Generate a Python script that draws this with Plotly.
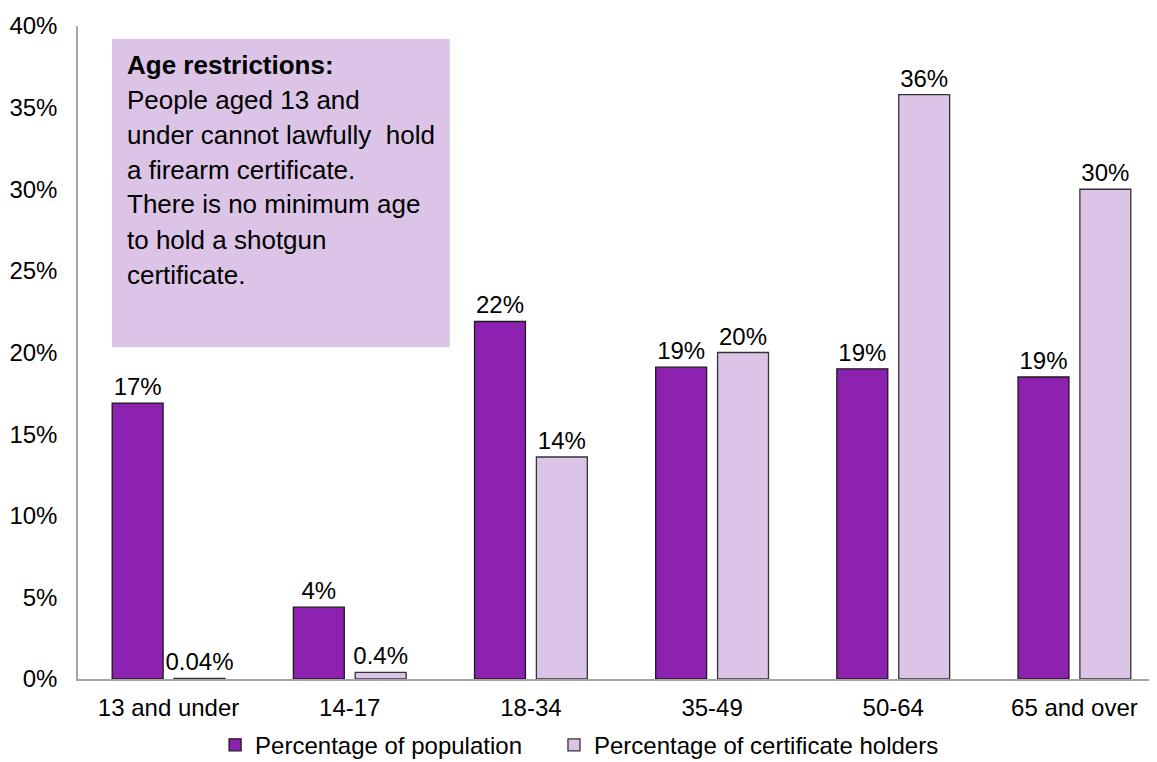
import plotly.graph_objects as go

categories = ["13 and under", "14-17", "18-34", "35-49", "50-64", "65 and over"]
population = [16.9, 4.4, 21.9, 19.1, 19.0, 18.5]
certificate = [0.04, 0.4, 13.6, 20.0, 35.8, 30.0]
population_labels = ["17%", "4%", "22%", "19%", "19%", "19%"]
certificate_labels = ["0.04%", "0.4%", "14%", "20%", "36%", "30%"]
y_ticks = [0, 5, 10, 15, 20, 25, 30, 35, 40]
y_tick_labels = ["0%", "5%", "10%", "15%", "20%", "25%", "30%", "35%", "40%"]
note_lines = [
    "<b>Age restrictions:</b>",
    "People aged 13 and",
    "under cannot lawfully  hold",
    "a firearm certificate.",
    "There is no minimum age",
    "to hold a shotgun",
    "certificate.",
]

FONT = "Liberation Sans, Arial, sans-serif"
PURPLE = "#8E22B0"
LILAC = "#DCC4E6"

fig = go.Figure()
fig.add_trace(go.Bar(
    x=categories, y=population, name="Percentage of population",
    marker=dict(color=PURPLE, line=dict(color="#1a1a1a", width=1.3)),
    text=population_labels, textposition="outside", constraintext="none",
    textfont=dict(family=FONT, size=24, color="#000"), cliponaxis=False,
    legend="legend",
))
fig.add_trace(go.Bar(
    x=categories, y=certificate, name="Percentage of certificate holders",
    marker=dict(color=LILAC, line=dict(color="#333333", width=1.3)),
    text=certificate_labels, textposition="outside", constraintext="none",
    textfont=dict(family=FONT, size=24, color="#000"), cliponaxis=False,
    legend="legend2",
))

legend_common = dict(orientation="h", xref="container", yref="container",
                     xanchor="left", y=0.062, yanchor="top",
                     font=dict(family=FONT, size=24, color="#000"),
                     itemwidth=30, bgcolor="rgba(0,0,0,0)")

fig.update_layout(
    width=1157, height=762,
    margin=dict(l=70, r=0, t=18, b=91, autoexpand=False),
    paper_bgcolor="white", plot_bgcolor="white",
    barmode="group", bargap=0.317, bargroupgap=0.177,
    font=dict(family=FONT, size=24, color="#000"),
    showlegend=True,
    legend=dict(x=0.179, **legend_common),
    legend2=dict(x=0.4719, **legend_common),
    xaxis=dict(range=[-0.5, 5.5], showline=True, linecolor="#A6A6A6", linewidth=2,
               showgrid=False, zeroline=False, ticks="", ticklabelstandoff=6,
               automargin=False,
               tickfont=dict(family=FONT, size=24, color="#000")),
    yaxis=dict(range=[0, 40], tickvals=y_ticks, ticktext=y_tick_labels,
               showline=True, linecolor="#A6A6A6", linewidth=1.5,
               showgrid=False, zeroline=False, ticks="", ticklabelstandoff=14,
               automargin=False,
               tickfont=dict(family=FONT, size=24, color="#000")),
)

fig.add_shape(type="rect", xref="paper", yref="paper",
              x0=0.0313, x1=0.342, y0=0.508, y1=0.980,
              fillcolor=LILAC, line=dict(width=0), layer="below")

plot_h = 762 - 18 - 91
for i, line in enumerate(note_lines):
    top_px = 39.5 + 35 * i - 18
    fig.add_annotation(
        xref="paper", yref="paper", x=0.0428, y=1 - top_px / plot_h,
        xanchor="left", yanchor="top", align="left", showarrow=False,
        font=dict(family=FONT, size=26, color="#000"), text=line,
    )

fig.write_html("out.html")
